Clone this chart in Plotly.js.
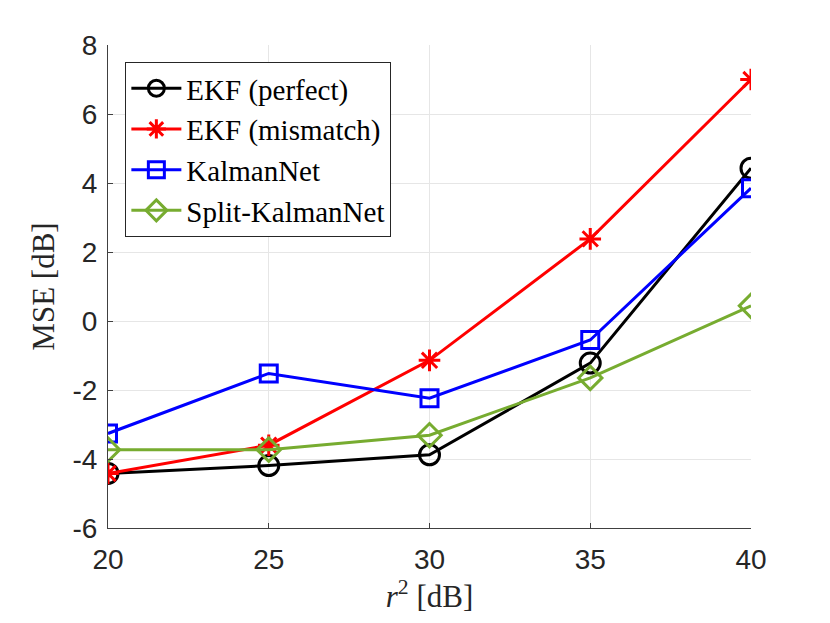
<!DOCTYPE html>
<html><head><meta charset="utf-8">
<script src="https://cdn.plot.ly/plotly-3.0.1.min.js"></script>
<style>body{margin:0;background:#fff}#chart{width:830px;height:623px}</style>
</head><body><div id="chart"></div>
<script>
const r2 = [20, 25, 30, 35, 40];
const ekfPerfect = [-4.42, -4.19, -3.88, -1.22, 4.43];
const ekfMismatch = [-4.42, -3.6, -1.14, 2.38, 7.0];
const kalmanNet = [-3.26, -1.52, -2.24, -0.55, 3.85];
const splitKalmanNet = [-3.73, -3.73, -3.31, -1.65, 0.44];
const names = ['EKF (perfect)', 'EKF (mismatch)', 'KalmanNet', 'Split-KalmanNet'];
const xTicks = [20, 25, 30, 35, 40];
const yTicks = [-6, -4, -2, 0, 2, 4, 6, 8];
const yTickText = ['-6', '-4', '-2', '0', '2', '4', '6', '8'];

const colors = ['#000000', '#ff0000', '#0000ff', 'rgb(119,172,48)'];
const symbols = ['circle-open', 'asterisk-open', 'square-open', 'diamond-open'];
const sizes = [20, 18, 17, 18];
const series = [ekfPerfect, ekfMismatch, kalmanNet, splitKalmanNet];

const traces = series.map((y, i) => ({
  x: r2, y: y, name: names[i], type: 'scatter', mode: 'lines+markers',
  line: {color: colors[i], width: 3},
  marker: {symbol: symbols[i], size: sizes[i], color: colors[i], line: {color: colors[i], width: 3}}
}));

const axisCommon = {
  showline: true, mirror: false, linecolor: '#404040', linewidth: 1,
  showgrid: true, gridcolor: '#e6e6e6', gridwidth: 1,
  ticks: 'inside', ticklen: 5, tickcolor: '#404040',
  zeroline: false,
  tickfont: {family: 'Liberation Sans, Arial, sans-serif', size: 28, color: '#262626'}
};
const titleFont = {family: 'Liberation Serif, DejaVu Serif, serif', size: 31, color: '#262626'};

const layout = {
  width: 830, height: 623,
  margin: {l: 108, r: 79, t: 45, b: 95},
  paper_bgcolor: '#fff', plot_bgcolor: '#fff',
  showlegend: true,
  xaxis: Object.assign({}, axisCommon, {
    range: [20, 40], tickvals: xTicks, ticklabelstandoff: 6,
    title: {text: '<i>r</i><sup>2</sup> [dB]', font: titleFont, standoff: 6}
  }),
  yaxis: Object.assign({}, axisCommon, {
    range: [-6, 8], tickvals: yTicks, ticktext: yTickText, ticklabelstandoff: 4,
    title: {text: 'MSE [dB]', font: titleFont, standoff: 8}
  }),
  legend: {
    x: 0.027, y: 0.965, xanchor: 'left', yanchor: 'top',
    bgcolor: '#fff', bordercolor: '#262626', borderwidth: 1,
    font: {family: 'Liberation Serif, DejaVu Serif, serif', size: 29, color: '#000'},
    tracegroupgap: 0, itemwidth: 50
  }
};

Plotly.newPlot('chart', traces, layout, {displayModeBar: false, staticPlot: true});
</script></body></html>
